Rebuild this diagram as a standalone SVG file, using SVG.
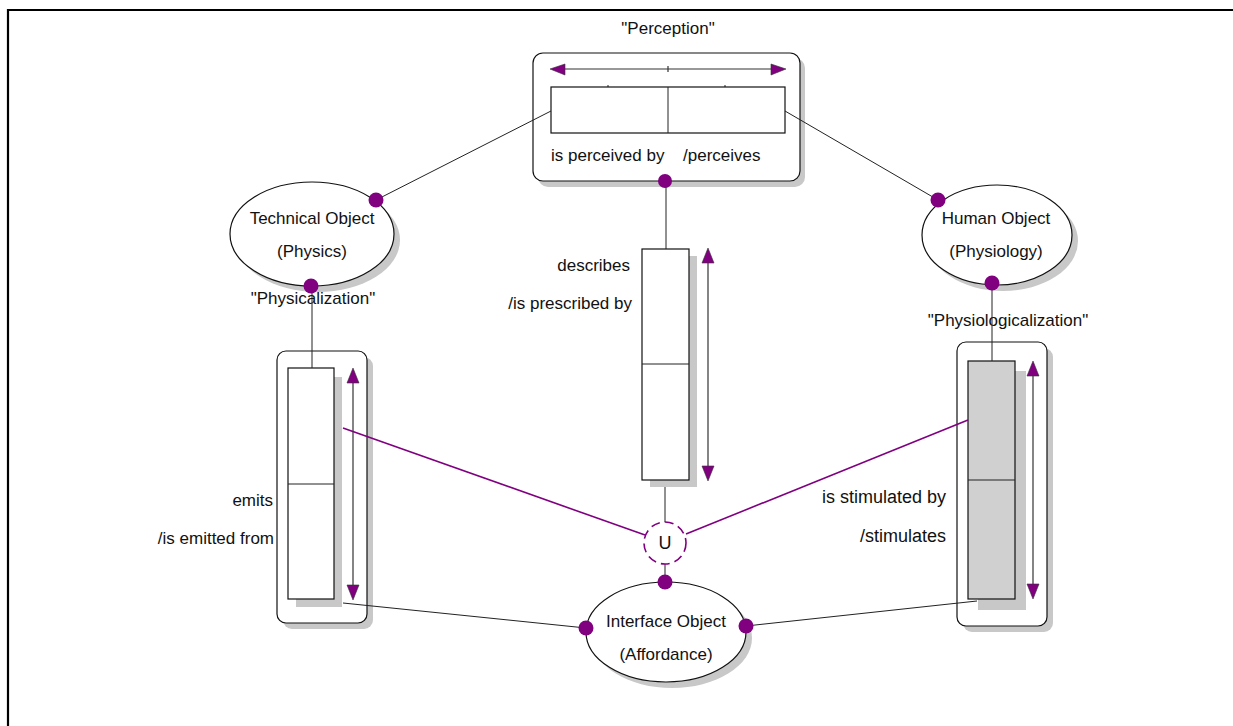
<svg xmlns="http://www.w3.org/2000/svg" width="1233" height="726" viewBox="0 0 1233 726">
<defs>
<style>
text{font-family:"Liberation Sans",Arial,sans-serif;font-size:17px;fill:#111}
.big{font-size:18px}
.sh{fill:#c8c8c8;stroke:none}
.box{fill:#fff;stroke:#111;stroke-width:1.2}
.gbox{fill:#d0d0d0;stroke:#111;stroke-width:1.2}
.ln{stroke:#222;stroke-width:1;fill:none}
.pl{stroke:#800080;stroke-width:1.6;fill:none}
.dot{fill:#800080}
.ah{fill:#800080;stroke:#333;stroke-width:0.6}
.al{stroke:#333;stroke-width:1.2}
</style>
</defs>
<rect width="1233" height="726" fill="#fff"/>
<g id="frame"><path d="M8 726 V10 H1233" fill="none" stroke="#000" stroke-width="2.2"/></g>

<g id="perception">
<text x="668" y="34" text-anchor="middle">"Perception"</text>
<rect class="sh" x="538" y="58" width="267" height="129" rx="10"/>
<rect class="box" x="533" y="53" width="267" height="128" rx="10"/>
<line class="al" x1="560" y1="69" x2="776" y2="69"/>
<line class="al" x1="668" y1="66" x2="668" y2="72"/>
<polygon class="ah" points="550,69 565,64 565,75"/>
<polygon class="ah" points="786,69 771,64 771,75"/>
<line class="ln" x1="608" y1="85" x2="608" y2="87"/>
<line class="ln" x1="725" y1="85" x2="725" y2="87"/>
<rect class="box" x="551" y="87" width="234" height="46"/>
<line class="ln" x1="668" y1="87" x2="668" y2="133"/>
<text x="551" y="161">is perceived by</text>
<text x="683" y="161">/perceives</text>
</g>

<g id="technical">
<ellipse class="sh" cx="318" cy="240" rx="82" ry="52"/>
<ellipse class="box" cx="312" cy="234" rx="82" ry="52"/>
<text x="312" y="224" text-anchor="middle">Technical Object</text>
<text x="312" y="257" text-anchor="middle">(Physics)</text>
</g>

<g id="human">
<ellipse class="sh" cx="1003" cy="241" rx="75" ry="50"/>
<ellipse class="box" cx="997" cy="235" rx="75" ry="50"/>
<text x="996" y="224" text-anchor="middle">Human Object</text>
<text x="996" y="257" text-anchor="middle">(Physiology)</text>
</g>

<g id="describes">
<rect class="sh" x="650" y="256" width="47" height="231"/>
<rect class="box" x="642" y="249" width="47" height="231"/>
<line class="ln" x1="642" y1="364" x2="689" y2="364"/>
<line class="al" x1="708" y1="258" x2="708" y2="470"/>
<polygon class="ah" points="708,248 702,263 714,263"/>
<polygon class="ah" points="708,481 702,466 714,466"/>
<text x="630" y="271" text-anchor="end">describes</text>
<text x="632" y="309" text-anchor="end">/is prescribed by</text>
</g>

<g id="interface">
<ellipse class="sh" cx="672" cy="638" rx="80" ry="50"/>
<ellipse class="box" cx="666" cy="632" rx="80" ry="50"/>
<text x="666" y="627" text-anchor="middle">Interface Object</text>
<text x="666" y="660" text-anchor="middle">(Affordance)</text>
</g>

<g id="physicalization">
<text x="313" y="304" text-anchor="middle">"Physicalization"</text>
<rect class="sh" x="283" y="357" width="90" height="272" rx="9"/>
<rect class="box" x="277" y="351" width="90" height="272" rx="9"/>
<rect class="sh" x="296" y="377" width="46" height="230"/>
<rect class="box" x="288" y="368" width="46" height="231"/>
<line class="ln" x1="288" y1="484" x2="334" y2="484"/>
<line class="al" x1="353" y1="378" x2="353" y2="590"/>
<polygon class="ah" points="353,368 347,383 359,383"/>
<polygon class="ah" points="353,600 347,585 359,585"/>
<text x="273" y="506" text-anchor="end">emits</text>
<text x="274" y="544" text-anchor="end">/is emitted from</text>
</g>

<g id="physiologicalization">
<text x="1008" y="326" text-anchor="middle">"Physiologicalization"</text>
<rect class="sh" x="963" y="348" width="90" height="284" rx="9"/>
<rect class="box" x="957" y="342" width="90" height="284" rx="9"/>
<rect class="sh" x="978" y="371" width="48" height="239"/>
<rect class="gbox" x="968" y="361" width="47" height="238"/>
<line class="ln" x1="968" y1="480" x2="1015" y2="480"/>
<line class="al" x1="1033" y1="371" x2="1033" y2="589"/>
<polygon class="ah" points="1033,361 1027,376 1039,376"/>
<polygon class="ah" points="1033,599 1027,584 1039,584"/>
<text x="946" y="503" text-anchor="end" class="big">is stimulated by</text>
<text x="946" y="542" text-anchor="end" class="big">/stimulates</text>
</g>

<g id="connectors">
<line class="ln" x1="551" y1="111" x2="376" y2="200"/>
<line class="ln" x1="785" y1="111" x2="938" y2="200"/>
<line class="ln" x1="666" y1="181" x2="666" y2="249"/>
<line class="ln" x1="665" y1="487" x2="665" y2="522"/>
<line class="ln" x1="665" y1="564" x2="665" y2="583"/>
<line class="ln" x1="312" y1="286" x2="312" y2="368"/>
<line class="ln" x1="992" y1="283" x2="992" y2="361"/>
<line class="ln" x1="343" y1="603" x2="586" y2="628"/>
<line class="ln" x1="977" y1="601" x2="746" y2="626"/>
<line class="pl" x1="343" y1="428" x2="645" y2="535"/>
<line class="pl" x1="968" y1="420" x2="686" y2="534"/>
</g>

<g id="union">
<circle cx="665" cy="543" r="21" fill="#fff" stroke="#800080" stroke-width="1.6" stroke-dasharray="9,5"/>
<text x="665" y="549" text-anchor="middle" class="big">U</text>
</g>

<g id="ports">
<circle class="dot" cx="665" cy="181" r="7"/>
<circle class="dot" cx="376" cy="200" r="7.5"/>
<circle class="dot" cx="311" cy="286" r="7.5"/>
<circle class="dot" cx="938" cy="200" r="7.5"/>
<circle class="dot" cx="992" cy="283" r="7.5"/>
<circle class="dot" cx="665" cy="582" r="7.5"/>
<circle class="dot" cx="586" cy="628" r="7.5"/>
<circle class="dot" cx="746" cy="626" r="7.5"/>
</g>
</svg>
